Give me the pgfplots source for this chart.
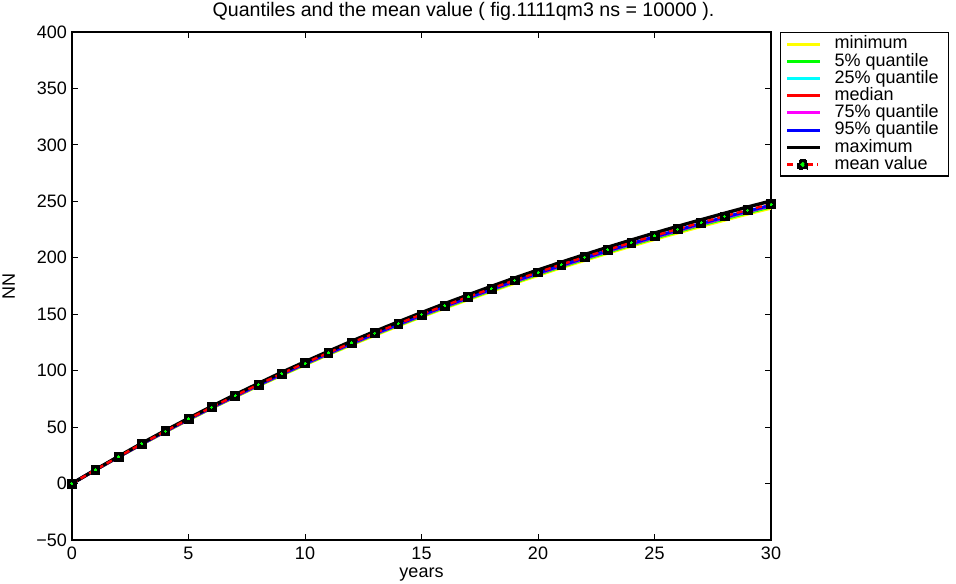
\documentclass[border=0pt]{standalone}
\usepackage{fontspec}
\setmainfont{Liberation Sans}
\usepackage{pgfplots}
\usepackage{pgfplotstable}
\pgfplotsset{compat=1.18}
\definecolor{mlyellow}{RGB}{255,255,0}
\definecolor{mlgreen}{RGB}{0,255,0}
\definecolor{mlcyan}{RGB}{0,255,255}
\definecolor{mlred}{RGB}{255,0,0}
\definecolor{mlmagenta}{RGB}{255,0,255}
\definecolor{mlblue}{RGB}{0,0,255}

% t  min  q5  q25  med  q75  q95  max  mean
\pgfplotstableread{
t  qmin  q5  q25  med  q75  q95  qmax  mean
0  0  0  0  0  0  0  0  0
1  11.9  12.0  12.0  12.0  12.0  12.1  12.2  12.1
2  23.4  23.6  23.6  23.7  23.7  23.7  24.1  23.8
3  34.8  34.9  35.1  35.1  35.1  35.2  35.7  35.3
4  45.7  45.9  46.1  46.1  46.2  46.2  46.9  46.4
5  56.3  56.6  56.8  56.9  56.9  57.0  57.8  57.2
6  66.7  67.0  67.2  67.3  67.4  67.4  68.4  67.7
7  76.6  77.0  77.3  77.3  77.4  77.5  78.7  77.8
8  86.4  86.8  87.1  87.2  87.3  87.4  88.7  87.7
9  95.9  96.4  96.7  96.8  96.9  97.0  98.5  97.4
10  105.1  105.6  106.0  106.1  106.2  106.3  107.9  106.7
11  114.1  114.6  115.0  115.1  115.2  115.3  117.1  115.8
12  122.8  123.5  123.8  124.0  124.1  124.2  126.1  124.7
13  131.3  132.0  132.4  132.5  132.6  132.8  134.8  133.3
14  139.5  140.2  140.6  140.8  140.9  141.0  143.2  141.6
15  147.6  148.3  148.8  148.9  149.1  149.2  151.4  149.8
16  155.3  156.1  156.6  156.8  156.9  157.1  159.4  157.7
17  162.8  163.6  164.1  164.3  164.5  164.6  167.1  165.3
18  170.2  171.1  171.6  171.8  171.9  172.1  174.7  172.8
19  177.4  178.3  178.8  179.0  179.2  179.4  182.1  180.1
20  184.3  185.2  185.8  186.0  186.2  186.4  189.2  187.1
21  191.1  192.1  192.6  192.8  193.0  193.2  196.1  194.0
22  197.6  198.6  199.2  199.4  199.6  199.8  202.8  200.6
23  204.0  205.0  205.6  205.9  206.1  206.3  209.4  207.1
24  210.2  211.3  211.9  212.1  212.3  212.5  215.7  213.4
25  216.2  217.3  218.0  218.2  218.4  218.6  221.9  219.5
26  222.0  223.1  223.8  224.0  224.3  224.5  227.9  225.4
27  227.7  228.9  229.6  229.8  230.0  230.3  233.7  231.2
28  233.2  234.4  235.1  235.4  235.6  235.9  239.4  236.8
29  238.7  239.9  240.6  240.9  241.1  241.3  245.0  242.3
30  243.9  245.1  245.9  246.1  246.4  246.6  250.3  247.6
}\quantiles

\begin{document}
\begin{tikzpicture}
\path[use as bounding box] (-36pt,-21.5pt) rectangle (442pt,270pt);
\begin{axis}[
    scale only axis,
    width=349.5pt,
    height=254pt,
    xmin=0, xmax=30,
    ymin=-50, ymax=400,
    xtick={0,5,...,30},
    ytick={-50,0,50,...,400},
    yticklabels={−50,0,50,100,150,200,250,300,350,400},
    tick align=inside,
    major tick length=3pt,
    axis line style={draw=black, line width=0.6pt},
    tick style={draw=black, line width=0.4pt},
    /pgf/number format/assume math mode=true,
    tick label style={font=\fontsize{9}{9}\selectfont},
    yticklabel style={xshift=1pt},
    label style={font=\fontsize{9}{9}\selectfont},
    xlabel={years},
    ylabel={NN},
    xlabel style={at={(0.5,0)}, anchor=north, yshift=-10.5pt},
    ylabel style={at={(0,0.5)}, anchor=south, yshift=25pt},
    title={Quantiles and the mean value ( fig.1111qm3 ns = 10000 ).},
    title style={font=\fontsize{9.8}{10}\selectfont, at={(0.5,1)}, anchor=south, yshift=-4pt, xshift=21pt},
    legend style={
        at={(1.013,1)},
        anchor=north west,
        draw=black,
        line width=0.6pt,
        font=\fontsize{9}{8}\selectfont,
        inner xsep=2.5pt,
        inner ysep=1.5pt,
        row sep=0.1pt,
        column sep=4pt,
        nodes={inner xsep=2.5pt, inner ysep=0pt, text height=6.6pt, text depth=1.9pt},
        cells={anchor=west},
    },
    legend cell align=left,
    legend image post style={xscale=0.95},
    every axis plot/.append style={line width=1.5pt},
]
\addplot[mlyellow, no marks] table[x=t, y=qmin] {\quantiles};
\addlegendentry{minimum}
\addplot[mlgreen, no marks] table[x=t, y=q5] {\quantiles};
\addlegendentry{5\% quantile}
\addplot[mlcyan, no marks] table[x=t, y=q25] {\quantiles};
\addlegendentry{25\% quantile}
\addplot[mlred, no marks] table[x=t, y=med] {\quantiles};
\addlegendentry{median}
\addplot[mlmagenta, no marks] table[x=t, y=q75] {\quantiles};
\addlegendentry{75\% quantile}
\addplot[mlblue, no marks] table[x=t, y=q95] {\quantiles};
\addlegendentry{95\% quantile}
\addplot[black, line width=1.7pt, no marks] table[x=t, y=qmax] {\quantiles};
\addlegendentry{maximum}
\addplot[mlred, line width=1.2pt, dash pattern=on 3pt off 2pt, mark=square*,
    mark size=2.2pt, mark options={solid, fill=black, draw=black, line width=0.3pt},
    legend image code/.code={
        \draw[mlred, line width=1.2pt, dash pattern=on 3pt off 2pt] (0cm,0cm) -- (0.57cm,0cm);
        \fill[black] (0.285cm,0cm) ++(-2.2pt,-2.2pt) rectangle ++(4.4pt,4.4pt);
        \fill[mlgreen] (0.285cm,0cm) circle (0.5pt);
    }] table[x=t, y=mean] {\quantiles};
\addlegendentry{mean value}
\addplot[only marks, mark=*, mark size=0.5pt, mlgreen, mark options={line width=0pt}, forget plot] table[x=t, y=mean] {\quantiles};
\end{axis}
\end{tikzpicture}
\end{document}
